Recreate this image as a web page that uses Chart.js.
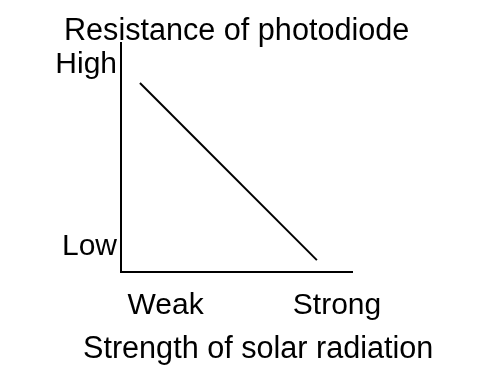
<!DOCTYPE html>
<html>
<head>
<meta charset="utf-8">
<script src="https://cdn.jsdelivr.net/npm/chart.js@4"></script>
<style>
  body { margin: 0; background: #fff; }
</style>
</head>
<body>
<canvas id="photoChart" width="496" height="376"></canvas>
<script>
const strength = [0.82, 8.48];
const resistance = [8.25, 0.52];

const strengthTicks = [1.93, 9.35];
const strengthLabels = ['Weak', 'Strong'];
const resistanceTicks = [1.11, 9.06];
const resistanceLabels = ['Low', 'High'];

const yTitle = 'Resistance of photodiode';
const xTitle = 'Strength of solar radiation';

const fontFamily = '"Liberation Sans", Arial, sans-serif';

// captions sit outside the scale boxes, so draw them by hand
const captions = {
  id: 'captions',
  afterDraw(chart) {
    const ctx = chart.ctx;
    const area = chart.chartArea;
    ctx.save();
    ctx.font = '30.6px ' + fontFamily;
    ctx.fillStyle = '#000';
    ctx.textAlign = 'left';
    ctx.textBaseline = 'alphabetic';
    ctx.fillText(yTitle, area.left - 57, area.top - 3);
    ctx.fillText(xTitle, area.left - 38, area.bottom + 86);
    ctx.restore();
  }
};

const photoData = {
  datasets: [{
    data: strength.map((s, i) => ({x: s, y: resistance[i]})),
    borderColor: '#000',
    borderWidth: 2,
    pointRadius: 0,
    fill: false
  }]
};

const photoOptions = {
  responsive: false,
  animation: false,
  layout: {
    padding: {top: 43, right: 144, left: 0, bottom: 0}
  },
  scales: {
    x: {
      type: 'linear',
      min: 0,
      max: 10,
      afterFit: (scale) => { scale.height = 104; },
      afterBuildTicks: (scale) => { scale.ticks = strengthTicks.map(v => ({value: v})); },
      ticks: {
        autoSkip: false,
        maxRotation: 0,
        padding: 16,
        color: '#000',
        font: {family: fontFamily, size: 30},
        callback: (value, index) => strengthLabels[index]
      },
      grid: {display: false, drawTicks: false},
      border: {display: true, color: '#000', width: 2}
    },
    y: {
      type: 'linear',
      min: 0,
      max: 10,
      afterFit: (scale) => { scale.width = 121; },
      afterBuildTicks: (scale) => { scale.ticks = resistanceTicks.map(v => ({value: v})); },
      ticks: {
        autoSkip: false,
        padding: 4,
        color: '#000',
        font: {family: fontFamily, size: 30},
        callback: (value, index) => resistanceLabels[index]
      },
      grid: {display: false, drawTicks: false},
      border: {display: true, color: '#000', width: 2}
    }
  },
  plugins: {
    legend: {display: false},
    tooltip: {enabled: false}
  }
};

new Chart(document.getElementById('photoChart'), {
  type: 'line',
  data: photoData,
  options: photoOptions,
  plugins: [captions]
});
</script>
</body>
</html>
